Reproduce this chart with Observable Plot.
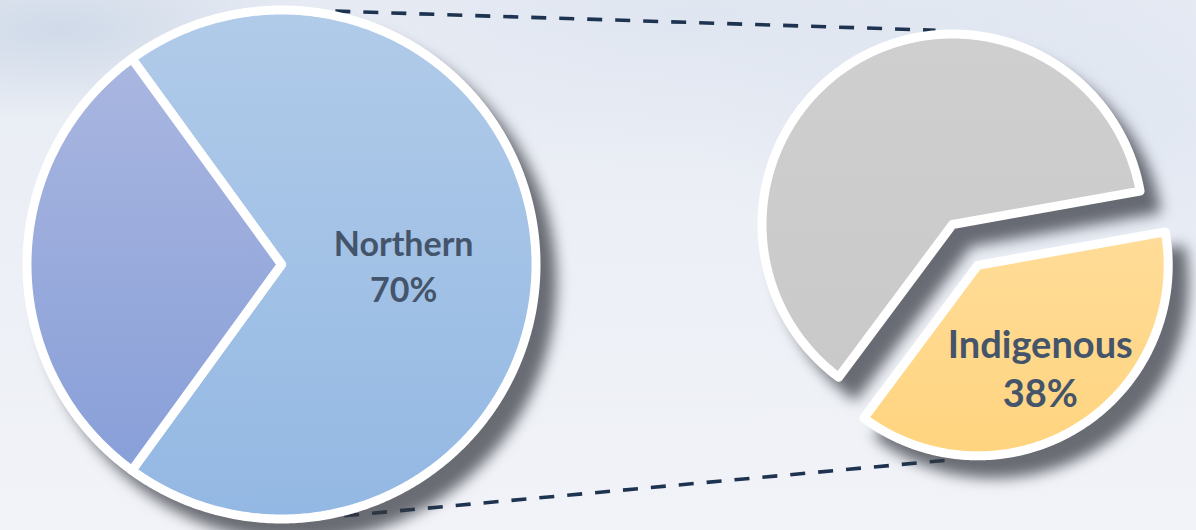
<!DOCTYPE html>
<html>
<head>
<meta charset="utf-8">
<script src="https://cdn.jsdelivr.net/npm/d3@7"></script>
<script src="https://cdn.jsdelivr.net/npm/@observablehq/plot@0.6"></script>
<style>
  html, body { margin: 0; padding: 0; }
  body { width: 1196px; height: 530px; overflow: hidden; background: #eef1f7; }
  #chart {
    position: relative; width: 1196px; height: 530px;
    background:
      radial-gradient(ellipse 260px 90px at 60px 30px, rgba(170,190,215,0.4), rgba(170,190,215,0) 100%),
      radial-gradient(ellipse 500px 160px at 700px 20px, rgba(208,218,234,0.35), rgba(208,218,234,0) 100%),
      radial-gradient(ellipse 400px 200px at 1100px 120px, rgba(210,220,236,0.4), rgba(210,220,236,0) 100%),
      linear-gradient(180deg, #e8ecf4 0%, #edf0f6 55%, #f1f3f8 100%);
  }
  #chart svg { display: block; }
</style>
</head>
<body>
<div id="chart"></div>
<script>
// ---- data ----
const regionCategories = ["Northern", "Other"];
const regionShares = [70, 30];
const groupCategories = ["Indigenous", "Other"];
const groupShares = [38, 62];
const labelledCategories = ["Northern", "Indigenous"];

// ---- layout ----
const W = 1196, H = 530;
const STROKE = 9;
const pies = [
  { id: "left", cats: regionCategories, values: regionShares, cx: 281, cy: 264, r: 254.5, start: 324,
    explode: {}, fills: ["gNorth", "gOtherL"], base: ["#a3c2e6", "#98aadc"], labelFrac: 0.48, fontSize: 34, lineHeight: 1.36 },
  { id: "right", cats: groupCategories, values: groupShares, cx: 952, cy: 224, r: 190.5, start: 79.9,
    explode: { Indigenous: 48 }, fills: ["gIndig", "gGray"], base: ["#ffd88a", "#cccccc"], labelFrac: 0.625, fontSize: 38, lineHeight: 1.3 }
];
const rad = Math.PI / 180;

function slicesFor(p) {
  const a0 = p.start * rad;
  const arcs = d3.pie().sort(null).startAngle(a0).endAngle(a0 + 2 * Math.PI)(p.values);
  return arcs.map((a, i) => {
    const mid = (a.startAngle + a.endAngle) / 2;
    const off = p.explode[p.cats[i]] || 0;
    const cx = p.cx + off * Math.sin(mid), cy = p.cy - off * Math.cos(mid);
    const pts = [{ x: cx, y: cy }];
    const n = Math.ceil((a.endAngle - a.startAngle) / (0.5 * rad));
    for (let k = 0; k <= n; k++) {
      const t = a.startAngle + (a.endAngle - a.startAngle) * k / n;
      pts.push({ x: cx + p.r * Math.sin(t), y: cy - p.r * Math.cos(t) });
    }
    return { cat: p.cats[i], value: p.values[i], pts, cx, cy, mid, grad: p.fills[i], base: p.base[i], idx: i };
  });
}

const pieSlices = pies.map(p => ({ pie: p, slices: slicesFor(p) }));

// connector lines between the two pies (points on the pie rims)
const outerL = pies[0].r + STROKE / 2, outerR = pies[1].r + STROKE / 2;
const indig = pieSlices[1].slices[0];
const onRim = (cx, cy, r, deg) => [cx + r * Math.sin(deg * rad), cy - r * Math.cos(deg * rad)];
const connectors = [
  [onRim(pies[0].cx, pies[0].cy, outerL, 12), onRim(pies[1].cx, pies[1].cy, outerR, -5)],
  [onRim(pies[0].cx, pies[0].cy, outerL, 166), onRim(indig.cx, indig.cy, outerR, 186)]
].map(([a, b]) => ({ x1: a[0], y1: a[1], x2: b[0], y2: b[1] }));

// labels
const labels = [];
pieSlices.forEach(({ pie, slices }) => {
  slices.forEach(s => {
    if (!labelledCategories.includes(s.cat)) return;
    const d = pie.labelFrac * pie.r;
    labels.push({ x: s.cx + d * Math.sin(s.mid), y: s.cy - d * Math.cos(s.mid),
      text: `${s.cat}\n${s.value}%`, fontSize: pie.fontSize, lineHeight: pie.lineHeight });
  });
});

const marks = [
  Plot.link(connectors, { x1: "x1", y1: "y1", x2: "x2", y2: "y2", stroke: "#1d3350",
    strokeWidth: 3.6, strokeDasharray: "15,13" })
];
pieSlices.forEach(({ pie, slices }) => {
  slices.forEach(s => {
    marks.push(Plot.line(s.pts, { x: "x", y: "y", curve: "linear-closed", fill: s.base,
      stroke: "white", strokeWidth: STROKE, strokeLinejoin: "round",
      ariaDescription: `pie-${pie.id}-${s.idx}` }));
  });
});
labels.forEach(l => {
  marks.push(Plot.text([l], { x: "x", y: "y", text: "text", fill: "#44546a", fontSize: l.fontSize,
    fontWeight: "bold", lineHeight: l.lineHeight, lineAnchor: "middle", textAnchor: "middle" }));
});

const chart = Plot.plot({
  width: W, height: H,
  margin: 0,
  x: { domain: [0, W], range: [0, W], axis: null },
  y: { domain: [0, H], range: [0, H], axis: null },
  style: { background: "transparent", fontFamily: "Lato, 'Open Sans', sans-serif" },
  marks
});

// gradients and shadows
const ns = "http://www.w3.org/2000/svg";
const defs = document.createElementNS(ns, "defs");
function grad(id, c0, c1) {
  const g = document.createElementNS(ns, "linearGradient");
  g.setAttribute("id", id); g.setAttribute("x1", "0"); g.setAttribute("y1", "0");
  g.setAttribute("x2", "0"); g.setAttribute("y2", "1");
  [[0, c0], [1, c1]].forEach(([o, c]) => {
    const s = document.createElementNS(ns, "stop");
    s.setAttribute("offset", o); s.setAttribute("stop-color", c); g.appendChild(s);
  });
  defs.appendChild(g);
}
grad("gNorth", "#b1cbe9", "#93b8e3");
grad("gOtherL", "#a9b6e0", "#889fd8");
grad("gGray", "#cfcfcf", "#c9c9c9");
grad("gIndig", "#ffdc98", "#ffd47f");
chart.insertBefore(defs, chart.firstChild);

pieSlices.forEach(({ pie, slices }) => {
  const wrap = document.createElementNS(ns, "g");
  wrap.setAttribute("style", "filter: drop-shadow(16px 18px 7px rgba(52,56,64,0.72))");
  let inserted = false;
  slices.forEach(s => {
    const g = chart.querySelector(`g[aria-description="pie-${pie.id}-${s.idx}"]`);
    if (!g) return;
    g.setAttribute("fill", `url(#${s.grad})`);
    g.querySelectorAll("path").forEach(p => { if (p.getAttribute("fill")) p.setAttribute("fill", `url(#${s.grad})`); });
    if (!inserted) { g.parentNode.insertBefore(wrap, g); inserted = true; }
    wrap.appendChild(g);
  });
});

document.getElementById("chart").appendChild(chart);
</script>
</body>
</html>
